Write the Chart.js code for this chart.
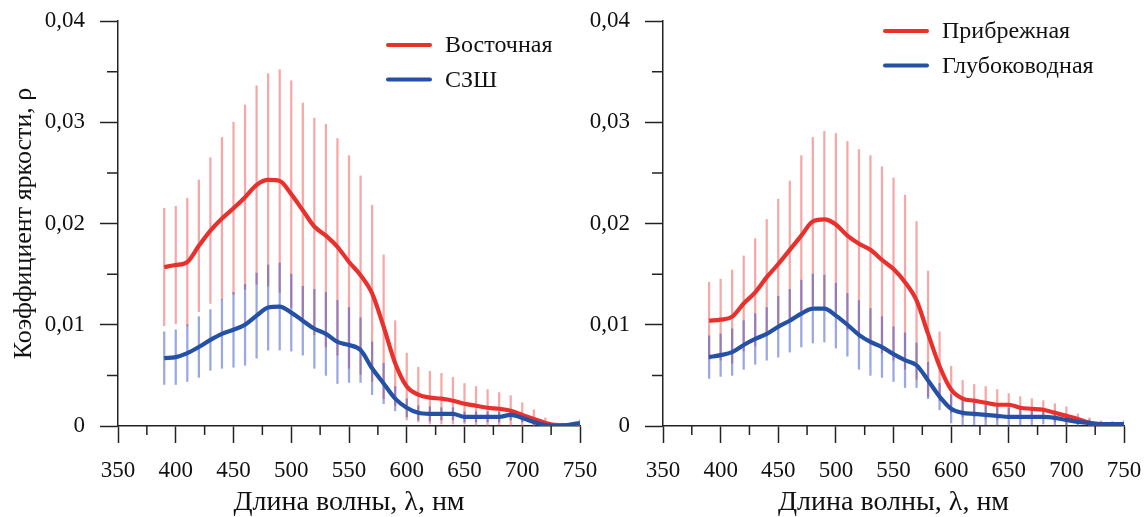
<!DOCTYPE html>
<html lang="ru">
<head>
<meta charset="utf-8">
<title>Коэффициент яркости</title>
<script src="https://cdn.jsdelivr.net/npm/chart.js@4.4.1/dist/chart.umd.min.js"></script>
<style>
  html, body { margin: 0; padding: 0; background: #fff; }
  #wrap { position: relative; width: 1145px; height: 517px; overflow: hidden; }
  #left { position: absolute; left: 0; top: 0; }
  #right { position: absolute; left: 585px; top: 0; }
</style>
</head>
<body>
<div id="wrap">
  <canvas id="left" width="600" height="517"></canvas>
  <canvas id="right" width="560" height="517"></canvas>
</div>
<script>
// длины волн, нм (шаг 10 нм)
const wavelengths = [390, 400, 410, 420, 430, 440, 450, 460, 470, 480, 490, 500, 510, 520, 530, 540, 550, 560, 570,
  580, 590, 600, 610, 620, 630, 640, 650, 660, 670, 680, 690, 700, 710, 720, 730, 740, 750];

// левый график
const eastMean = [0.0157, 0.0159, 0.0162, 0.0178, 0.0193, 0.0205, 0.0215, 0.0226, 0.0238, 0.0243, 0.0242, 0.0229, 0.0213,
  0.0197, 0.0188, 0.0177, 0.0162, 0.0149, 0.0131, 0.0098, 0.0062, 0.0039, 0.0031, 0.0028, 0.0027, 0.0025, 0.0022, 0.0020,
  0.0018, 0.0017, 0.0015, 0.0011, 0.0007, 0.0003, 0.0001, 0.0001, 0.0001];
const eastErr = [0.0058, 0.0058, 0.0063, 0.0065, 0.0072, 0.0080, 0.0085, 0.0091, 0.0098, 0.0105, 0.0110, 0.0112, 0.0106,
  0.0107, 0.0110, 0.0107, 0.0105, 0.0098, 0.0087, 0.0071, 0.0042, 0.0033, 0.0027, 0.0026, 0.0025, 0.0023, 0.0020, 0.0019,
  0.0018, 0.0016, 0.0015, 0.0012, 0.0009, 0.0005, 0.0002, 0.0001, 0.0001];
const nwsMean = [0.0067, 0.0068, 0.0072, 0.0078, 0.0085, 0.0091, 0.0095, 0.0100, 0.0109, 0.0117, 0.0118, 0.0112, 0.0104,
  0.0096, 0.0091, 0.0083, 0.0080, 0.0075, 0.0057, 0.0042, 0.0027, 0.0018, 0.0013, 0.0012, 0.0012, 0.0012, 0.0009, 0.0009,
  0.0009, 0.0009, 0.0011, 0.0008, 0.0004, 0.0001, 0.0000, 0.0001, 0.0003];
const nwsErr = [0.0026, 0.0027, 0.0028, 0.0030, 0.0030, 0.0034, 0.0037, 0.0040, 0.0042, 0.0042, 0.0043, 0.0038, 0.0034,
  0.0039, 0.0041, 0.0041, 0.0037, 0.0032, 0.0026, 0.0020, 0.0012, 0.0009, 0.0007, 0.0007, 0.0006, 0.0006, 0.0005, 0.0005,
  0.0005, 0.0005, 0.0005, 0.0004, 0.0003, 0.0002, 0.0001, 0.0002, 0.0003];

// правый график
const coastMean = [0.0104, 0.0105, 0.0108, 0.0121, 0.0132, 0.0147, 0.0160, 0.0174, 0.0188, 0.0202, 0.0204, 0.0199, 0.0188,
  0.0180, 0.0174, 0.0164, 0.0155, 0.0142, 0.0124, 0.0091, 0.0059, 0.0036, 0.0027, 0.0025, 0.0023, 0.0021, 0.0021, 0.0018,
  0.0017, 0.0016, 0.0013, 0.0010, 0.0007, 0.0003, 0.0001, 0.0000, 0.0000];
const coastErr = [0.0038, 0.0040, 0.0046, 0.0047, 0.0053, 0.0057, 0.0064, 0.0068, 0.0079, 0.0083, 0.0087, 0.0090, 0.0093,
  0.0093, 0.0093, 0.0092, 0.0090, 0.0086, 0.0078, 0.0062, 0.0034, 0.0023, 0.0018, 0.0016, 0.0016, 0.0015, 0.0011, 0.0011,
  0.0010, 0.0009, 0.0009, 0.0009, 0.0005, 0.0005, 0.0004, 0.0004, 0.0003];
const deepMean = [0.0068, 0.0070, 0.0073, 0.0080, 0.0086, 0.0091, 0.0098, 0.0104, 0.0111, 0.0116, 0.0116, 0.0109, 0.0100,
  0.0090, 0.0083, 0.0078, 0.0071, 0.0065, 0.0060, 0.0045, 0.0029, 0.0017, 0.0013, 0.0012, 0.0011, 0.0010, 0.0009, 0.0009,
  0.0009, 0.0009, 0.0008, 0.0006, 0.0004, 0.0003, 0.0002, 0.0002, 0.0002];
const deepErr = [0.0021, 0.0021, 0.0023, 0.0024, 0.0025, 0.0026, 0.0030, 0.0031, 0.0033, 0.0034, 0.0033, 0.0032, 0.0031,
  0.0034, 0.0033, 0.0030, 0.0027, 0.0027, 0.0022, 0.0018, 0.0013, 0.0014, 0.0013, 0.0011, 0.0010, 0.0009, 0.0009, 0.0008,
  0.0008, 0.0007, 0.0007, 0.0005, 0.0004, 0.0003, 0.0002, 0.0002, 0.0003];

const xMinorTicks = [375, 425, 475, 525, 575, 625, 675, 725];
const yMinorTicks = [0.005, 0.015, 0.025, 0.035];

const RED = "#e8302d";
const BLUE = "#2451a6";
const RED_BAR = "rgba(242, 80, 80, 0.5)";
const BLUE_BAR = "rgba(55, 80, 195, 0.5)";
const AXIS = "#222";
const FONT = '"Liberation Serif", "Times New Roman", serif';

Chart.defaults.font.family = FONT;
Chart.defaults.color = "#111";

// второстепенные деления осей
const minorTicks = {
  id: "minorTicks",
  afterDraw(chart) {
    const { ctx, scales: { x, y } } = chart;
    ctx.save();
    ctx.strokeStyle = AXIS;
    ctx.lineWidth = 1.5;
    ctx.beginPath();
    xMinorTicks.forEach(v => {
      const px = x.getPixelForValue(v);
      ctx.moveTo(px, y.bottom);
      ctx.lineTo(px, y.bottom + 9);
    });
    yMinorTicks.forEach(v => {
      const py = y.getPixelForValue(v);
      ctx.moveTo(x.left - 11, py);
      ctx.lineTo(x.left, py);
    });
    ctx.stroke();
    ctx.restore();
  }
};

// легенда внутри области графика
const lineLegend = {
  id: "lineLegend",
  afterDraw(chart, args, opts) {
    const ctx = chart.ctx;
    const lines = chart.data.datasets.filter(d => d.type === "line");
    ctx.save();
    ctx.font = "24px " + FONT;
    ctx.textBaseline = "middle";
    lines.forEach((d, i) => {
      const yy = opts.y + i * 34.5;
      ctx.strokeStyle = d.borderColor;
      ctx.lineWidth = 4;
      ctx.lineCap = "round";
      ctx.beginPath();
      ctx.moveTo(opts.x, yy);
      ctx.lineTo(opts.x + 42, yy);
      ctx.stroke();
      ctx.fillStyle = "#111";
      ctx.fillText(d.label, opts.x + 57, yy + 1);
    });
    ctx.restore();
  }
};

function points(mean) {
  return wavelengths.map((w, i) => ({ x: w, y: mean[i] }));
}

function bars(mean, err) {
  return wavelengths.map((w, i) => ({ x: w, y: [mean[i] - err[i], mean[i] + err[i]] }));
}

function makeChart(id, names, series, cfg) {
  return new Chart(document.getElementById(id), {
    data: {
      datasets: [
        {
          type: "line", label: names[0], data: points(series[0]),
          borderColor: RED, borderWidth: 4.2, pointRadius: 0,
          cubicInterpolationMode: "monotone", order: 1
        },
        {
          type: "line", label: names[1], data: points(series[2]),
          borderColor: BLUE, borderWidth: 4.2, pointRadius: 0,
          cubicInterpolationMode: "monotone", order: 0
        },
        {
          type: "bar", label: names[0] + " σ", data: bars(series[0], series[1]),
          backgroundColor: RED_BAR, barThickness: 1.6, grouped: false, order: 3
        },
        {
          type: "bar", label: names[1] + " σ", data: bars(series[2], series[3]),
          backgroundColor: BLUE_BAR, barThickness: 1.6, grouped: false, order: 2
        }
      ]
    },
    options: {
      responsive: false,
      animation: false,
      events: [],
      layout: { padding: { top: 21, right: cfg.padRight, left: 0, bottom: 0 } },
      plugins: {
        legend: { display: false },
        tooltip: { enabled: false },
        lineLegend: cfg.legend
      },
      scales: {
        x: {
          type: "linear",
          min: 350,
          max: 750,
          offset: false,
          grid: {
            offset: false, drawOnChartArea: false, drawTicks: true,
            tickLength: 17, tickColor: AXIS, tickWidth: 1.5
          },
          border: { display: true, color: AXIS, width: 1.5 },
          ticks: { stepSize: 50, autoSkip: false, maxRotation: 0, padding: 14, font: { size: 23 }, color: "#111" },
          title: {
            display: true, text: "Длина волны, λ, нм", font: { size: 28, lineHeight: 1.0 }, color: "#111",
            padding: { top: 0, bottom: 0 }
          },
          afterFit(scale) {
            scale.height = 91;
            scale.paddingLeft = 0;
            scale.paddingRight = 0;
          }
        },
        y: {
          min: 0,
          max: 0.04,
          grid: {
            offset: false, drawOnChartArea: false, drawTicks: true,
            tickLength: 18, tickColor: AXIS, tickWidth: 1.5
          },
          border: { display: true, color: AXIS, width: 1.5 },
          ticks: {
            stepSize: 0.01, padding: 15, font: { size: 23 }, color: "#111",
            callback: v => (v === 0 ? "0" : v.toFixed(2).replace(".", ","))
          },
          title: {
            display: cfg.yTitle, text: "Коэффициент яркости, ρ", font: { size: 26 }, color: "#111",
            padding: { top: 9, bottom: 0 }
          },
          afterFit(scale) {
            scale.width = cfg.yWidth;
            scale.paddingTop = 0;
            scale.paddingBottom = 0;
          }
        }
      }
    },
    plugins: [minorTicks, lineLegend]
  });
}

makeChart("left", ["Восточная", "СЗШ"], [eastMean, eastErr, nwsMean, nwsErr],
  { padRight: 20, yWidth: 118, yTitle: true, legend: { x: 388, y: 45 } });

makeChart("right", ["Прибрежная", "Глубоководная"], [coastMean, coastErr, deepMean, deepErr],
  { padRight: 21, yWidth: 78, yTitle: false, legend: { x: 300, y: 31 } });
</script>
</body>
</html>
